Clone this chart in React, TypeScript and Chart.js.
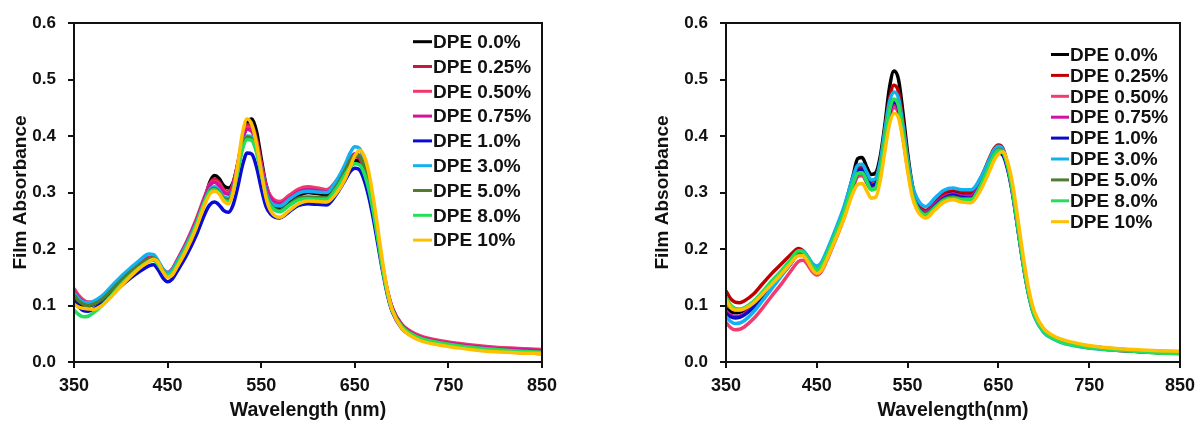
import React, { useEffect, useRef } from "react";
import { Chart, registerables } from "chart.js";

Chart.register(...registerables);

// ---------- data ----------
const wavelengths = [
  350, 355, 360, 365, 370, 380, 390, 400, 410, 420, 430, 435, 440, 445, 450, 455, 460, 470, 480, 490,
  495, 500, 505, 510, 515, 520, 525, 530, 535, 540, 545, 550, 555, 560, 570, 580, 590, 600, 610, 620,
  630, 640, 645, 650, 655, 660, 665, 670, 675, 680, 685, 690, 700, 710, 720, 740, 760, 780, 800, 825, 850,
];

const seriesLabels = [
  "DPE 0.0%", "DPE 0.25%", "DPE 0.50%", "DPE 0.75%", "DPE 1.0%",
  "DPE 3.0%", "DPE 5.0%", "DPE 8.0%", "DPE 10%",
];

const leftColors = ["#000000", "#C8193C", "#F0386B", "#D4109C", "#0A0AD2", "#12B2F0", "#4E7D2F", "#22E05A", "#FFC000"];
const rightColors = ["#000000", "#C00000", "#F03C6E", "#D010A8", "#0A0AC8", "#12B2F0", "#4E7D2F", "#22E05A", "#FFC000"];

const xTitleLeft = "Wavelength (nm)";
const xTitleRight = "Wavelength(nm)";
const yTitle = "Film Absorbance";

// Left panel
const left00 = [.112, .104, .100, .099, .101, .110, .126, .143, .158, .171, .183, .185, .176, .162, .155, .160, .173, .203, .240, .290,
  .318, .330, .325, .312, .308, .318, .350, .392, .422, .430, .408, .360, .315, .290, .272, .282, .295, .300, .298, .296,
  .312, .338, .350, .357, .353, .335, .315, .270, .218, .165, .122, .092, .062, .050, .042, .034, .029, .025, .022, .020, .018];
const left025 = [.120, .110, .104, .102, .104, .114, .130, .147, .162, .174, .184, .184, .176, .163, .157, .163, .177, .208, .245, .292,
  .315, .324, .318, .305, .301, .315, .352, .395, .420, .418, .395, .352, .312, .292, .280, .290, .302, .306, .305, .303,
  .318, .342, .356, .364, .360, .342, .314, .270, .218, .166, .124, .095, .066, .053, .045, .037, .032, .028, .025, .023, .021];
const left050 = [.130, .118, .110, .106, .106, .115, .131, .149, .164, .176, .185, .184, .176, .164, .159, .165, .180, .212, .250, .295,
  .314, .320, .315, .303, .300, .314, .350, .392, .416, .412, .390, .350, .313, .294, .284, .295, .306, .310, .308, .305,
  .320, .345, .360, .368, .364, .345, .314, .270, .218, .166, .125, .096, .067, .054, .046, .038, .033, .029, .026, .024, .022];
const left075 = [.125, .114, .107, .104, .105, .114, .130, .147, .162, .174, .184, .184, .175, .163, .157, .163, .178, .210, .247, .292,
  .312, .318, .312, .300, .297, .312, .348, .390, .412, .408, .386, .346, .310, .290, .280, .290, .301, .305, .303, .301,
  .317, .344, .359, .368, .365, .346, .315, .271, .219, .167, .125, .096, .066, .052, .044, .036, .031, .027, .024, .022, .020];
const left10 = [.110, .098, .091, .090, .093, .104, .118, .134, .148, .160, .170, .172, .163, .149, .142, .147, .160, .188, .222, .263,
  .278, .283, .278, .268, .265, .278, .310, .348, .370, .368, .345, .308, .276, .262, .255, .266, .277, .280, .279, .278,
  .296, .323, .337, .343, .340, .322, .292, .252, .205, .158, .118, .089, .060, .047, .040, .032, .027, .023, .020, .017, .015];
const left30 = [.122, .112, .106, .105, .107, .117, .134, .151, .166, .180, .191, .190, .179, .165, .158, .163, .177, .207, .243, .287,
  .305, .310, .304, .292, .290, .306, .343, .382, .400, .398, .378, .340, .302, .283, .276, .288, .299, .302, .301, .300,
  .320, .351, .370, .381, .378, .356, .320, .272, .218, .165, .122, .092, .063, .049, .041, .033, .028, .025, .022, .019, .017];
const left50 = [.118, .108, .102, .100, .102, .111, .127, .144, .159, .172, .183, .184, .175, .161, .154, .159, .173, .203, .240, .284,
  .302, .307, .301, .289, .287, .302, .340, .380, .398, .395, .374, .336, .298, .278, .268, .279, .290, .292, .291, .291,
  .310, .340, .357, .366, .364, .346, .313, .268, .216, .164, .122, .093, .064, .050, .042, .034, .029, .025, .022, .019, .017];
const left80 = [.092, .084, .080, .081, .086, .100, .118, .137, .153, .167, .178, .180, .172, .160, .154, .159, .173, .203, .240, .285,
  .301, .305, .299, .287, .284, .300, .337, .377, .394, .392, .371, .333, .296, .276, .266, .277, .287, .289, .288, .288,
  .306, .333, .345, .351, .349, .334, .305, .264, .214, .163, .121, .092, .063, .050, .042, .034, .029, .025, .022, .019, .017];
const left100 = [.102, .097, .095, .094, .093, .100, .116, .134, .151, .166, .178, .182, .176, .160, .150, .154, .168, .198, .235, .280,
  .297, .302, .298, .285, .280, .300, .350, .405, .430, .420, .386, .338, .292, .268, .256, .268, .280, .285, .284, .283,
  .298, .325, .345, .365, .375, .365, .335, .288, .232, .174, .126, .092, .060, .046, .038, .030, .025, .021, .018, .016, .015];

// Right panel
const right00 = [.095, .089, .087, .088, .091, .103, .120, .138, .156, .176, .194, .192, .182, .170, .166, .172, .190, .230, .272, .330,
  .360, .362, .345, .332, .335, .365, .420, .485, .515, .500, .440, .370, .315, .285, .265, .278, .293, .300, .296, .296,
  .320, .355, .372, .380, .374, .348, .308, .255, .200, .150, .110, .083, .056, .044, .037, .030, .026, .023, .021, .019, .018];
const right025 = [.126, .112, .106, .105, .108, .120, .138, .156, .172, .188, .201, .197, .186, .173, .168, .174, .190, .228, .268, .318,
  .342, .345, .332, .320, .324, .355, .410, .465, .490, .478, .425, .360, .310, .285, .268, .283, .299, .305, .301, .300,
  .324, .360, .377, .384, .378, .351, .310, .256, .200, .150, .110, .083, .056, .044, .037, .029, .025, .022, .020, .018, .017];
const right050 = [.070, .061, .057, .058, .062, .076, .095, .116, .136, .158, .178, .180, .172, .160, .154, .160, .176, .214, .255, .307,
  .328, .330, .317, .305, .308, .336, .385, .430, .450, .440, .395, .342, .300, .278, .264, .278, .291, .296, .292, .292,
  .316, .352, .369, .376, .371, .346, .306, .253, .198, .148, .108, .081, .054, .042, .035, .028, .024, .021, .019, .017, .015];
const right075 = [.090, .083, .080, .081, .085, .098, .116, .135, .153, .172, .190, .189, .180, .167, .161, .167, .184, .222, .263, .313,
  .333, .335, .322, .310, .313, .342, .392, .438, .456, .446, .400, .346, .303, .280, .265, .279, .293, .298, .294, .294,
  .318, .354, .371, .378, .373, .347, .307, .254, .199, .149, .109, .082, .055, .043, .036, .028, .024, .021, .019, .017, .015];
const right10 = [.086, .080, .078, .079, .083, .096, .114, .133, .152, .171, .190, .189, .180, .168, .162, .168, .185, .224, .266, .318,
  .338, .340, .327, .313, .316, .346, .397, .443, .460, .450, .404, .348, .303, .279, .262, .276, .290, .295, .291, .290,
  .312, .346, .363, .370, .366, .342, .303, .251, .197, .148, .109, .082, .055, .043, .036, .029, .025, .022, .019, .017, .016];
const right30 = [.080, .072, .068, .069, .073, .088, .108, .129, .150, .172, .196, .196, .187, .175, .170, .176, .193, .232, .275, .328,
  .348, .350, .336, .322, .325, .356, .410, .460, .478, .467, .418, .360, .314, .291, .275, .290, .304, .308, .305, .305,
  .325, .358, .375, .382, .376, .349, .307, .252, .196, .146, .106, .079, .052, .041, .034, .027, .023, .021, .019, .017, .016];
const right50 = [.105, .096, .092, .092, .095, .106, .122, .140, .157, .176, .194, .193, .183, .170, .163, .169, .186, .224, .265, .315,
  .333, .335, .320, .306, .309, .340, .394, .445, .465, .454, .406, .348, .301, .277, .262, .275, .288, .292, .289, .289,
  .312, .348, .367, .376, .372, .348, .308, .255, .199, .149, .109, .082, .055, .043, .036, .029, .025, .022, .019, .017, .016];
const right80 = [.115, .101, .095, .094, .096, .107, .124, .143, .160, .179, .197, .195, .184, .170, .164, .170, .187, .225, .266, .316,
  .334, .335, .320, .305, .308, .340, .394, .445, .465, .454, .405, .346, .299, .275, .260, .273, .286, .290, .287, .287,
  .311, .348, .366, .375, .371, .348, .309, .256, .200, .149, .109, .081, .054, .042, .035, .028, .024, .021, .019, .016, .015];
const right100 = [.110, .097, .092, .092, .094, .104, .120, .137, .154, .172, .188, .188, .178, .164, .157, .162, .178, .215, .254, .300,
  .314, .316, .303, .290, .292, .322, .373, .420, .440, .432, .392, .338, .293, .270, .255, .269, .283, .287, .283, .282,
  .303, .337, .356, .368, .372, .355, .321, .270, .213, .160, .117, .088, .059, .047, .040, .032, .027, .024, .022, .020, .019];

const leftSeries = [left00, left025, left050, left075, left10, left30, left50, left80, left100];
const rightSeries = [right00, right025, right050, right075, right10, right30, right50, right80, right100];

// ---------- chart ----------
const FONT = "'Liberation Sans', Arial, Helvetica, sans-serif";
const INK = "#111111";

type LegendCfg = { x0: number; x1: number; y0: number; dy: number; size: number };

type PanelProps = {
  series: number[][];
  colors: string[];
  xTitle: string;
  yWidth: number;
  yTitlePad: number;
  padRight: number;
  legend: LegendCfg;
};

function makeLegendPlugin(cfg: LegendCfg) {
  return {
    id: "insideLegend",
    afterDraw(chart: any) {
      const ctx = chart.ctx as CanvasRenderingContext2D;
      ctx.save();
      chart.data.datasets.forEach((ds: any, i: number) => {
        const y = cfg.y0 + i * cfg.dy;
        ctx.strokeStyle = ds.borderColor;
        ctx.lineWidth = 3;
        ctx.beginPath();
        ctx.moveTo(cfg.x0, y);
        ctx.lineTo(cfg.x1, y);
        ctx.stroke();
        ctx.fillStyle = INK;
        ctx.font = `bold ${cfg.size}px ${FONT}`;
        ctx.textBaseline = "middle";
        ctx.textAlign = "left";
        ctx.fillText(ds.label, cfg.x1 + 1, y + 1);
      });
      ctx.restore();
    },
  };
}

const framePlugin = {
  id: "frame",
  afterDraw(chart: any) {
    const { left, top, right, bottom } = chart.chartArea;
    const ctx = chart.ctx as CanvasRenderingContext2D;
    ctx.save();
    ctx.strokeStyle = INK;
    ctx.lineWidth = 2;
    ctx.strokeRect(left, top, right - left, bottom - top);
    ctx.restore();
  },
};

function Panel({ series, colors, xTitle, yWidth, yTitlePad, padRight, legend }: PanelProps) {
  const ref = useRef<HTMLCanvasElement>(null);
  useEffect(() => {
    const n = series.length;
    const chart = new Chart(ref.current!, {
      type: "line",
      data: {
        datasets: series.map((vals, i) => ({
          label: seriesLabels[i],
          data: wavelengths.map((x, k) => ({ x, y: vals[k] })),
          borderColor: colors[i],
          backgroundColor: colors[i],
          borderWidth: 3.5,
          pointRadius: 0,
          cubicInterpolationMode: "monotone" as const,
          order: n - 1 - i,
        })),
      },
      options: {
        animation: false,
        responsive: false,
        events: [],
        layout: { padding: { left: 0, top: 23, right: padRight, bottom: 0 } },
        plugins: { legend: { display: false }, tooltip: { enabled: false } },
        scales: {
          x: {
            type: "linear",
            min: 350,
            max: 850,
            afterFit(scale: any) {
              scale.height = 62;
            },
            ticks: {
              stepSize: 100,
              autoSkip: false,
              maxRotation: 0,
              padding: 7,
              color: INK,
              font: { family: FONT, size: 18, weight: "bold" },
            },
            grid: { drawOnChartArea: false, drawTicks: true, tickLength: 6, color: INK, lineWidth: 2 },
            border: { display: true, color: INK, width: 2 },
            title: {
              display: true,
              text: xTitle,
              color: INK,
              font: { family: FONT, size: 19.5, weight: "bold" },
              padding: { top: 0, bottom: 2 },
            },
          },
          y: {
            type: "linear",
            min: 0,
            max: 0.6,
            afterFit(scale: any) {
              scale.width = yWidth;
            },
            ticks: {
              stepSize: 0.1,
              padding: 12,
              color: INK,
              font: { family: FONT, size: 17, weight: "bold" },
              callback: (v: any) => Number(v).toFixed(1),
            },
            grid: { drawOnChartArea: false, drawTicks: true, tickLength: 6, color: INK, lineWidth: 2 },
            border: { display: true, color: INK, width: 2 },
            title: {
              display: true,
              text: yTitle,
              color: INK,
              font: { family: FONT, size: 19, weight: "bold" },
              padding: { top: yTitlePad, bottom: 0 },
            },
          },
        },
      },
      plugins: [framePlugin, makeLegendPlugin(legend)],
    } as any);
    return () => chart.destroy();
  }, []);
  return <canvas ref={ref} width={601} height={424} style={{ display: "block", width: 601, height: 424 }} />;
}

export default function App() {
  return (
    <div style={{ position: "absolute", left: 0, top: 0, width: 1202, height: 424, display: "flex", background: "#fff" }}>
      <Panel
        series={leftSeries}
        colors={leftColors}
        xTitle={xTitleLeft}
        yWidth={74}
        yTitlePad={9}
        padRight={59}
        legend={{ x0: 413, x1: 432, y0: 41.7, dy: 24.8, size: 19 }}
      />
      <Panel
        series={rightSeries}
        colors={rightColors}
        xTitle={xTitleRight}
        yWidth={125}
        yTitlePad={50}
        padRight={18}
        legend={{ x0: 450, x1: 468, y0: 54.5, dy: 20.9, size: 19 }}
      />
    </div>
  );
}
